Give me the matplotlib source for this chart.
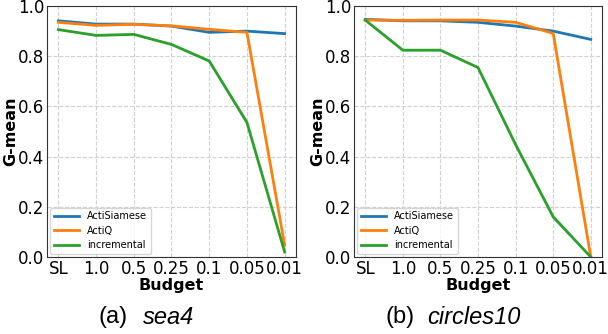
import matplotlib
matplotlib.use('Agg')
import matplotlib.pyplot as plt
import numpy as np

budgets = ['SL', '1.0', '0.5', '0.25', '0.1', '0.05', '0.01']
methods = ['ActiSiamese', 'ActiQ', 'incremental']
colors = ['#1f77b4', '#ff7f0e', '#2ca02c']

# sea4
sea4_siamese = [0.941, 0.928, 0.928, 0.920, 0.895, 0.900, 0.890]
sea4_actiq = [0.935, 0.923, 0.927, 0.921, 0.907, 0.895, 0.047]
sea4_incr = [0.906, 0.883, 0.887, 0.847, 0.781, 0.536, 0.020]
sea4_incr_std = [0.002, 0.003, 0.003, 0.004, 0.006, 0.012, 0.004]

# circles10
circ_siamese = [0.947, 0.941, 0.941, 0.935, 0.920, 0.900, 0.867]
circ_actiq = [0.944, 0.943, 0.944, 0.944, 0.935, 0.891, 0.000]
circ_incr = [0.944, 0.824, 0.824, 0.755, 0.448, 0.160, 0.000]
circ_incr_std = [0.002, 0.004, 0.004, 0.005, 0.006, 0.012, 0.002]

panels = [
    ('(a)', 'sea4', [sea4_siamese, sea4_actiq, sea4_incr], sea4_incr_std),
    ('(b)', 'circles10', [circ_siamese, circ_actiq, circ_incr], circ_incr_std),
]

fig = plt.figure(figsize=(6.08, 3.34), dpi=100)
ax_pos = [[0.0773, 0.2305, 0.4095, 0.7515],
          [0.5822, 0.2305, 0.4080, 0.7515]]
caption_x = [(128, 143), (415, 427)]

x = np.arange(len(budgets))
for k, (tag, name, series, std) in enumerate(panels):
    ax = fig.add_axes(ax_pos[k])
    for vals, label, c in zip(series, methods, colors):
        ax.plot(x, vals, color=c, lw=2, label=label)
    inc = np.array(series[2])
    sd = np.array(std)
    ax.fill_between(x, inc - sd, inc + sd, color=colors[2], alpha=0.2, lw=0)

    ax.set_ylim(0, 1.0)
    ax.set_xticks(x)
    ax.set_xticklabels(budgets)
    ax.set_yticks([0.0, 0.2, 0.4, 0.6, 0.8, 1.0])
    ax.tick_params(labelsize=12, length=0, pad=2)
    ax.grid(True, linestyle='--', color='#d0d0d0', lw=0.8)
    for s in ax.spines.values():
        s.set_color('#333333')
    ax.set_xlabel('Budget', fontsize=11.5, fontweight='bold', labelpad=0)
    ax.set_ylabel('G-mean', fontsize=11.5, fontweight='bold', labelpad=0)
    ax.legend(loc='lower left', fontsize=7, handlelength=2.6,
              borderaxespad=0.3, labelspacing=0.45)

    xr, xi = caption_x[k]
    fig.text(xr / 608, 1 - 317 / 334, tag, ha='right', va='center',
             fontsize=17, family='Liberation Sans')
    fig.text(xi / 608, 1 - 317 / 334, name, ha='left', va='center',
             fontsize=17, family='Liberation Sans', style='italic')

plt.savefig('out.png', dpi=100)
